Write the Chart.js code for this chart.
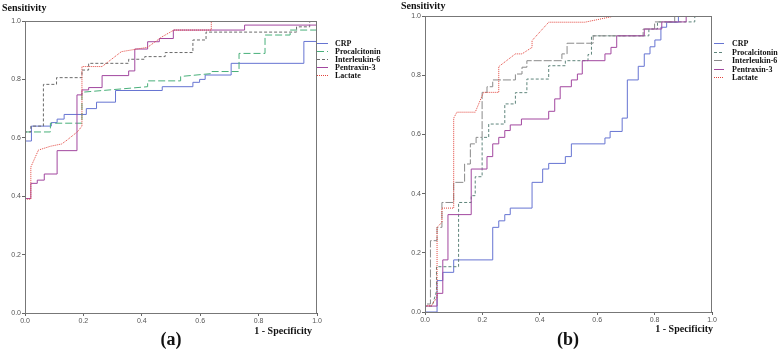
<!DOCTYPE html>
<html>
<head>
  <meta charset="utf-8">
  <title>ROC curves</title>
  <script src="https://cdn.jsdelivr.net/npm/chart.js"></script>
  <style>
    body { margin: 0; background: #fff; }
    canvas { position: absolute; top: 0; }
    #rocA { left: 0; }
    #rocB { left: 380px; }
  </style>
</head>
<body>
  <canvas id="rocA" width="389" height="351"></canvas>
  <canvas id="rocB" width="398" height="351"></canvas>

  <script>
    const markers = ['CRP', 'Procalcitonin', 'Interleukin-6', 'Pentraxin-3', 'Lactate'];
    const tickValues = [0, 0.2, 0.4, 0.6, 0.8, 1.0];

    // panel (a): [1 - specificity, sensitivity]
    const crpA = [[0,0],[0,0.589],[0.022,0.589],[0.022,0.64],[0.09,0.64],[0.09,0.652],[0.11,0.652],[0.11,0.664],
      [0.134,0.664],[0.134,0.68],[0.21,0.68],[0.21,0.70],[0.245,0.70],[0.245,0.722],[0.31,0.722],[0.31,0.762],
      [0.47,0.762],[0.47,0.775],[0.575,0.775],[0.575,0.79],[0.598,0.79],[0.598,0.80],[0.617,0.80],[0.617,0.815],
      [0.706,0.815],[0.706,0.855],[0.955,0.855],[0.955,0.93],[1,0.93],[1,1]];
    const pctA = [[0,0],[0,0.62],[0.087,0.62],[0.087,0.65],[0.195,0.65],[0.195,0.756],[0.42,0.775],[0.42,0.795],
      [0.533,0.795],[0.533,0.81],[0.64,0.82],[0.64,0.827],[0.733,0.827],[0.733,0.889],[0.822,0.889],[0.822,0.952],
      [0.908,0.952],[0.908,0.969],[1,0.969],[1,1]];
    const il6A = [[0,0],[0,0.62],[0.02,0.62],[0.02,0.64],[0.063,0.64],[0.063,0.783],[0.108,0.783],[0.108,0.806],
      [0.195,0.806],[0.195,0.832],[0.218,0.832],[0.218,0.855],[0.355,0.855],[0.355,0.869],[0.41,0.869],[0.41,0.878],
      [0.48,0.878],[0.48,0.892],[0.575,0.892],[0.575,0.935],[0.62,0.935],[0.62,0.962],[0.93,0.962],[0.93,0.98],
      [0.975,0.98],[0.975,1],[1,1]];
    const ptx3A = [[0,0],[0,0.392],[0.02,0.392],[0.02,0.444],[0.042,0.444],[0.042,0.455],[0.066,0.455],[0.066,0.476],
      [0.11,0.476],[0.11,0.556],[0.178,0.556],[0.178,0.747],[0.195,0.747],[0.195,0.764],[0.218,0.764],[0.218,0.772],
      [0.264,0.772],[0.264,0.813],[0.355,0.813],[0.355,0.829],[0.376,0.829],[0.376,0.904],[0.42,0.904],[0.42,0.929],
      [0.46,0.929],[0.46,0.94],[0.508,0.94],[0.508,0.969],[0.752,0.969],[0.752,0.986],[1,0.986],[1,1]];
    const lacA = [[0,0],[0,0.39],[0.02,0.39],[0.02,0.5],[0.046,0.558],[0.087,0.571],[0.126,0.579],[0.145,0.593],
      [0.18,0.621],[0.195,0.64],[0.195,0.844],[0.264,0.844],[0.33,0.895],[0.42,0.91],[0.468,0.945],[0.51,0.969],
      [0.638,0.969],[0.638,1],[1,1]];

    // panel (b)
    const crpB = [[0,0],[0.042,0],[0.042,0.106],[0.062,0.106],[0.062,0.134],[0.1,0.134],[0.1,0.176],[0.236,0.176],
      [0.236,0.286],[0.257,0.286],[0.257,0.308],[0.278,0.308],[0.278,0.329],[0.297,0.329],[0.297,0.351],[0.373,0.351],
      [0.373,0.438],[0.41,0.438],[0.41,0.483],[0.431,0.483],[0.431,0.502],[0.489,0.502],[0.489,0.525],[0.51,0.525],
      [0.51,0.568],[0.627,0.568],[0.627,0.588],[0.645,0.588],[0.645,0.61],[0.687,0.61],[0.687,0.655],[0.705,0.655],
      [0.705,0.784],[0.743,0.784],[0.743,0.83],[0.764,0.83],[0.764,0.872],[0.784,0.872],[0.784,0.896],[0.801,0.896],
      [0.801,0.919],[0.822,0.919],[0.822,0.962],[0.842,0.962],[0.842,0.979],[0.883,0.979],[0.883,1],[1,1]];
    const pctB = [[0,0],[0,0.02],[0.025,0.02],[0.04,0.07],[0.04,0.153],[0.117,0.153],[0.117,0.37],[0.161,0.37],
      [0.161,0.393],[0.175,0.393],[0.175,0.457],[0.199,0.457],[0.199,0.59],[0.222,0.59],[0.222,0.635],[0.278,0.635],
      [0.278,0.703],[0.315,0.703],[0.315,0.741],[0.355,0.741],[0.355,0.787],[0.431,0.787],[0.431,0.832],[0.489,0.832],
      [0.489,0.849],[0.568,0.849],[0.568,0.87],[0.58,0.87],[0.58,0.933],[0.78,0.933],[0.78,0.956],[0.81,0.956],
      [0.81,0.98],[0.94,0.98],[0.94,1],[1,1]];
    const il6B = [[0,0],[0,0.027],[0.019,0.027],[0.019,0.241],[0.042,0.241],[0.042,0.286],[0.059,0.286],[0.059,0.37],
      [0.1,0.37],[0.1,0.438],[0.138,0.438],[0.138,0.5],[0.158,0.5],[0.158,0.568],[0.178,0.568],[0.178,0.59],
      [0.199,0.59],[0.199,0.742],[0.216,0.742],[0.216,0.761],[0.236,0.761],[0.236,0.784],[0.315,0.784],[0.315,0.804],
      [0.338,0.804],[0.338,0.827],[0.355,0.827],[0.355,0.849],[0.477,0.849],[0.477,0.872],[0.495,0.872],[0.495,0.908],
      [0.586,0.908],[0.586,0.933],[0.76,0.933],[0.76,0.956],[0.8,0.956],[0.8,0.98],[0.87,0.98],[0.87,1],[1,1]];
    const ptx3B = [[0,0],[0,0.02],[0.042,0.02],[0.042,0.063],[0.062,0.063],[0.062,0.176],[0.08,0.176],[0.08,0.329],
      [0.161,0.329],[0.161,0.483],[0.216,0.483],[0.216,0.525],[0.236,0.525],[0.236,0.568],[0.257,0.568],[0.257,0.59],
      [0.278,0.59],[0.278,0.613],[0.297,0.613],[0.297,0.632],[0.336,0.632],[0.336,0.652],[0.431,0.652],[0.431,0.678],
      [0.452,0.678],[0.452,0.72],[0.471,0.72],[0.471,0.761],[0.51,0.761],[0.51,0.784],[0.531,0.784],[0.531,0.804],
      [0.548,0.804],[0.548,0.849],[0.627,0.849],[0.627,0.872],[0.648,0.872],[0.648,0.894],[0.668,0.894],[0.668,0.933],
      [0.764,0.933],[0.764,0.956],[0.825,0.956],[0.825,0.98],[0.91,0.98],[0.91,1],[1,1]];
    const lacB = [[0,0],[0,0.021],[0.022,0.021],[0.042,0.05],[0.042,0.286],[0.059,0.303],[0.059,0.351],[0.1,0.351],
      [0.1,0.655],[0.111,0.675],[0.175,0.675],[0.204,0.742],[0.257,0.742],[0.257,0.829],[0.315,0.872],[0.338,0.872],
      [0.373,0.894],[0.373,0.917],[0.431,0.979],[0.557,0.979],[0.662,1],[1,1]];

    const serif = 'Liberation Serif, Times New Roman, serif';

    function curve(i, pts, color, dash) {
      return {
        label: markers[i],
        data: pts.map(p => ({ x: p[0], y: p[1] })),
        borderColor: color,
        borderWidth: 1,
        borderDash: dash,
        pointRadius: 0,
        showLine: true,
        fill: false,
        tension: 0,
        order: 5 - i
      };
    }

    function axis(pos) {
      return {
        type: 'linear', position: pos, min: 0, max: 1,
        afterBuildTicks: s => { s.ticks = tickValues.map(v => ({ value: v })); },
        afterFit: s => { if (pos === 'left') s.width = 22; else s.height = 20; },
        grid: { display: true, drawOnChartArea: false, drawTicks: true, tickLength: 3, color: '#666' },
        border: { display: true, color: '#555', width: 1 },
        ticks: { padding: 1, color: '#555', font: { family: 'Liberation Sans, Arial', size: 7 },
                 callback: v => v.toFixed(1) }
      };
    }

    // frame, legend and the text around each panel
    const panelDeco = {
      id: 'panelDeco',
      afterDraw(chart, args, o) {
        const ctx = chart.ctx, a = chart.chartArea;
        ctx.save();
        ctx.strokeStyle = '#777';
        ctx.lineWidth = 1;
        ctx.strokeRect(Math.round(a.left) + 0.5, Math.round(a.top) + 0.5,
                       Math.round(a.right - a.left) - 1, Math.round(a.bottom - a.top));

        ctx.fillStyle = '#111';
        ctx.font = 'bold 8px ' + serif;
        ctx.textBaseline = 'middle';
        ctx.textAlign = 'left';
        chart.data.datasets.forEach((ds, i) => {
          const y = Math.round(o.legendY + i * o.legendStep) + 0.5;
          ctx.strokeStyle = ds.borderColor;
          ctx.setLineDash(ds.borderDash || []);
          ctx.beginPath();
          ctx.moveTo(o.lineX0, y);
          ctx.lineTo(o.lineX1, y);
          ctx.stroke();
          ctx.fillText(ds.label, o.textX, y);
        });
        ctx.setLineDash([]);

        ctx.textBaseline = 'alphabetic';
        ctx.font = 'bold 10px ' + serif;
        ctx.fillText('Sensitivity', o.sensX, o.sensY);
        ctx.textAlign = 'right';
        ctx.fillText('1 - Specificity', o.specX, o.specY);
        ctx.textAlign = 'center';
        ctx.font = 'bold 18px ' + serif;
        ctx.fillText(o.tag, o.tagX, o.tagY);
        ctx.restore();
      }
    };

    function rocChart(id, datasets, padding, deco) {
      new Chart(document.getElementById(id), {
        type: 'scatter',
        data: { datasets: datasets },
        options: {
          responsive: false,
          animation: false,
          layout: { padding: padding },
          scales: { x: axis('bottom'), y: axis('left') },
          plugins: { legend: { display: false }, tooltip: { enabled: false }, panelDeco: deco }
        },
        plugins: [panelDeco]
      });
    }

    rocChart('rocA', [
      curve(0, crpA, '#6674d2', []),
      curve(1, pctA, '#49b07a', [7, 3]),
      curve(2, il6A, '#6a6a6a', [3, 2]),
      curve(3, ptx3A, '#a2479f', []),
      curve(4, lacA, '#e2443c', [1, 1])
    ], { left: 3, top: 21, right: 72, bottom: 18 }, {
      legendY: 42.5, legendStep: 8.1, lineX0: 317, lineX1: 328, textX: 335,
      sensX: 2, sensY: 11, specX: 312, specY: 334, tag: '(a)', tagX: 171, tagY: 345
    });

    rocChart('rocB', [
      curve(0, crpB, '#6674d2', []),
      curve(1, pctB, '#5f857c', [3, 2]),
      curve(2, il6B, '#8a8a8a', [8, 2]),
      curve(3, ptx3B, '#a2479f', []),
      curve(4, lacB, '#e2443c', [1, 1])
    ], { left: 23, top: 16, right: 66, bottom: 19 }, {
      legendY: 43, legendStep: 8.5, lineX0: 334, lineX1: 344, textX: 352,
      sensX: 21, sensY: 9, specX: 333, specY: 332, tag: '(b)', tagX: 188, tagY: 345
    });
  </script>
</body>
</html>
